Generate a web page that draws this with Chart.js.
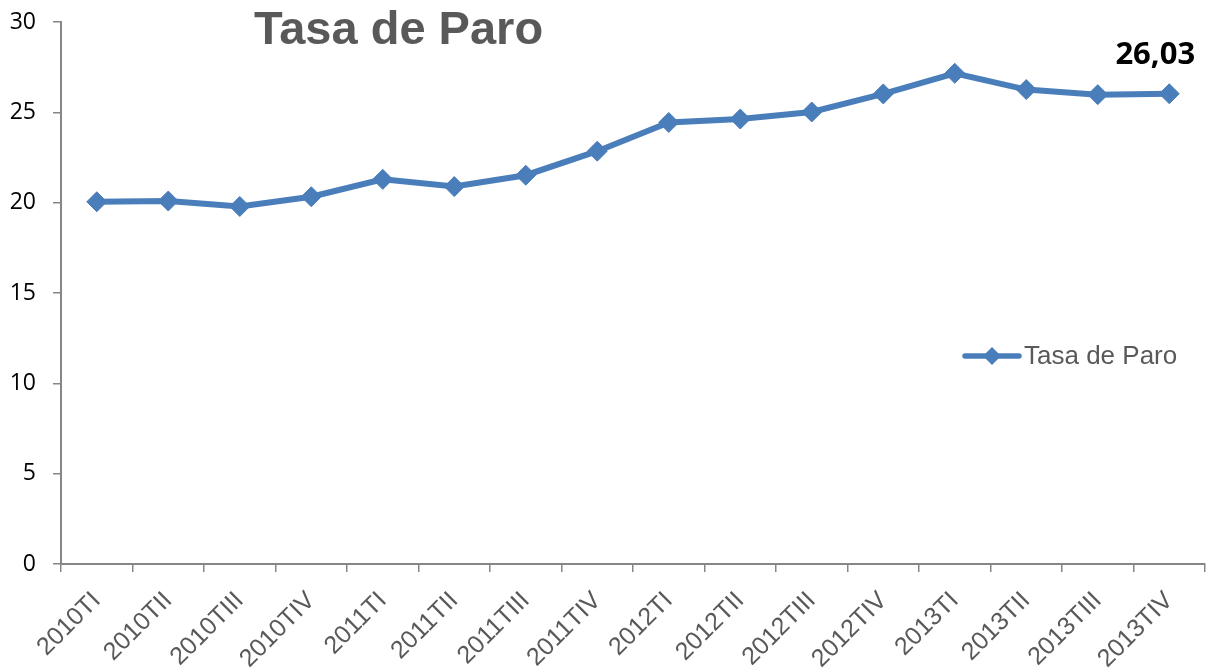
<!DOCTYPE html>
<html>
<head>
<meta charset="utf-8">
<script src="https://cdn.jsdelivr.net/npm/chart.js@4"></script>
<style>
html,body{margin:0;padding:0;background:#fff;}
#wrap{width:1216px;height:672px;}
</style>
</head>
<body>
<div id="wrap"><canvas id="c" width="1216" height="672"></canvas></div>
<script>
const categories = ["2010TI","2010TII","2010TIII","2010TIV","2011TI","2011TII","2011TIII","2011TIV","2012TI","2012TII","2012TIII","2012TIV","2013TI","2013TII","2013TIII","2013TIV"];
const tasaParo = [20.05,20.09,19.79,20.33,21.29,20.89,21.52,22.85,24.44,24.63,25.02,26.02,27.16,26.26,25.98,26.03];
const yTicks = [0,5,10,15,20,25,30];
const chartTitle = "Tasa de Paro";
const seriesName = "Tasa de Paro";

const LINE_COLOR = '#4a7ebb';
const AXIS_COLOR = '#868686';

const overlay = {
  id: 'overlay',
  afterDraw(chart) {
    const ctx = chart.ctx;
    ctx.save();
    // title
    ctx.fillStyle = '#595959';
    ctx.font = 'bold 47px "Liberation Sans", Arial, sans-serif';
    ctx.textAlign = 'left';
    ctx.textBaseline = 'alphabetic';
    ctx.fillText(chartTitle, 254, 44);
    // data label on last point
    const meta = chart.getDatasetMeta(0);
    const last = meta.data[meta.data.length - 1];
    const v = tasaParo[tasaParo.length - 1];
    ctx.fillStyle = '#000';
    ctx.font = 'bold 31px "Open Sans", sans-serif';
    ctx.textAlign = 'center';
    ctx.textBaseline = 'alphabetic';
    ctx.fillText(v.toFixed(2).replace('.', ','), last.x - 14, last.y - 30);
    // legend
    const ly = 356;
    ctx.strokeStyle = LINE_COLOR;
    ctx.lineWidth = 5.5;
    ctx.lineCap = 'round';
    ctx.beginPath();
    ctx.moveTo(965, ly);
    ctx.lineTo(1019, ly);
    ctx.stroke();
    ctx.fillStyle = LINE_COLOR;
    ctx.beginPath();
    ctx.moveTo(992, ly - 9);
    ctx.lineTo(1001, ly);
    ctx.lineTo(992, ly + 9);
    ctx.lineTo(983, ly);
    ctx.closePath();
    ctx.fill();
    ctx.fillStyle = '#595959';
    ctx.font = '26px "Liberation Sans", Arial, sans-serif';
    ctx.textAlign = 'left';
    ctx.textBaseline = 'middle';
    ctx.fillText(seriesName, 1024, ly + 1);
    ctx.restore();
  }
};

new Chart(document.getElementById('c'), {
  type: 'line',
  data: {
    labels: categories,
    datasets: [{
      label: seriesName,
      data: tasaParo,
      borderColor: LINE_COLOR,
      backgroundColor: LINE_COLOR,
      borderWidth: 6,
      pointStyle: 'rectRot',
      pointRadius: 10,
      pointHoverRadius: 10,
      pointBorderWidth: 1,
      pointBorderColor: LINE_COLOR,
      pointBackgroundColor: LINE_COLOR,
      tension: 0,
      fill: false
    }]
  },
  options: {
    responsive: false,
    animation: false,
    devicePixelRatio: 1,
    layout: { padding: { top: 22, right: 7, left: 0, bottom: 0 } },
    plugins: {
      legend: { display: false },
      title: { display: false },
      tooltip: { enabled: false }
    },
    scales: {
      x: {
        type: 'category',
        offset: true,
        grid: { display: true, drawOnChartArea: false, drawTicks: true, tickLength: 8, offset: true, color: AXIS_COLOR, lineWidth: 1.5 },
        border: { display: true, color: AXIS_COLOR, width: 2 },
        ticks: {
          color: '#595959',
          font: { family: '"Liberation Sans", Arial, sans-serif', size: 25 },
          maxRotation: 45, minRotation: 45,
          autoSkip: false,
          padding: 14
        },
        afterFit(scale) { scale.height = 108; }
      },
      y: {
        min: 0, max: 30,
        afterBuildTicks(scale) { scale.ticks = yTicks.map(v => ({ value: v })); },
        grid: { display: true, drawOnChartArea: false, drawTicks: true, tickLength: 8, color: AXIS_COLOR, lineWidth: 1.5 },
        border: { display: true, color: AXIS_COLOR, width: 2 },
        ticks: {
          color: '#000',
          font: { family: '"Open Sans", sans-serif', size: 23 },
          padding: 17
        },
        afterFit(scale) { scale.width = 61; scale.paddingTop = 0; scale.paddingBottom = 0; }
      }
    }
  },
  plugins: [overlay]
});
</script>
</body>
</html>
